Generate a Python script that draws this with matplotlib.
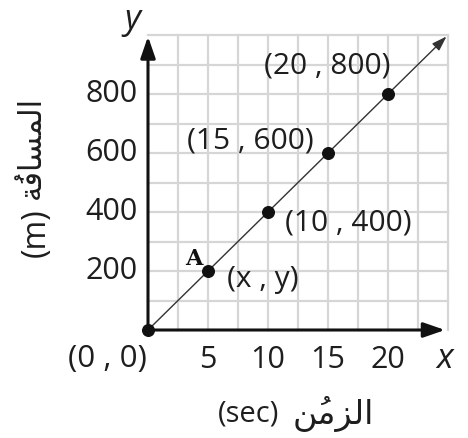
import matplotlib
matplotlib.use("Agg")
import matplotlib.pyplot as plt

# Data: time (sec) vs distance (m)
times = [0, 5, 10, 15, 20]
distances = [0, 200, 400, 600, 800]
point_labels = ["", "(x , y)", "(10 , 400)", "(15 , 600)", "(20 , 800)"]
label_offsets = [None, (55, -9), (80, -11), (-78, 12), (-61, 28)]  # pixels from each point
x_ticks = [5, 10, 15, 20]
y_ticks = [200, 400, 600, 800]
x_max, y_max = 25, 1000

# Arabic words in presentation forms (visual order) so they render joined
dist_ar = "\uFE94\u064F\uFED3\uFE8E\uFEB4\uFEE4\uFEDF\uFE8D"   # المسافةُ
time_ar = "\uFEE6\u064F\uFEE3\uFEB0\uFEDF\uFE8D"                # الزمنُ

fam = ["Open Sans", "DejaVu Sans"]
ink = "#1e1e1e"
W, H = 468, 438
fig = plt.figure(figsize=(W / 100, H / 100), dpi=100)
ax = fig.add_axes([148 / W, (H - 330) / H, 300 / W, 295 / H])
ax.set_xlim(0, x_max)
ax.set_ylim(0, y_max)
for s in ax.spines.values():
    s.set_visible(False)
ax.set_xticks([]); ax.set_yticks([])

# grid
grid_c = "#d6d6d6"
gx = [i * 2.5 for i in range(1, 11)]
gy = [i * 100 for i in range(1, 11)]
for v in gx:
    ax.plot([v, v], [0, y_max], color=grid_c, lw=1.6, zorder=1, clip_on=False)
for v in gy:
    ax.plot([0, x_max], [v, v], color=grid_c, lw=1.6, zorder=1, clip_on=False)

# axes with arrows
axis_arrow = dict(arrowstyle="-|>,head_length=1.3,head_width=0.45",
                  color="#111111", lw=2.2, shrinkA=0, shrinkB=0)
ax.annotate("", xy=(x_max * 0.99, 0), xytext=(0, 0), arrowprops=axis_arrow,
            zorder=3, annotation_clip=False)
ax.annotate("", xy=(0, y_max * 0.995), xytext=(0, 0), arrowprops=axis_arrow,
            zorder=3, annotation_clip=False)

# line through the points
ax.annotate("", xy=(x_max * 0.995, y_max * 0.995), xytext=(0, 0),
            arrowprops=dict(arrowstyle="-|>,head_length=0.9,head_width=0.3",
                            color="#333333", lw=1.0, shrinkA=0, shrinkB=0),
            zorder=3, annotation_clip=False)
ax.scatter(times, distances, s=70, color="#111111", zorder=4, clip_on=False)

# point labels
for t, d, lab, off in zip(times, distances, point_labels, label_offsets):
    if lab:
        ax.annotate(lab, xy=(t, d), xytext=off, textcoords="offset pixels",
                    fontsize=21.5, family=fam, ha="center", va="center", color=ink)
ax.annotate("A", xy=(times[1], distances[1]), xytext=(-14, 12), textcoords="offset pixels",
            fontsize=16, family="DejaVu Serif", fontweight="bold",
            ha="center", va="center", color="#111111")

# tick labels
for v in x_ticks:
    ax.text(v, -100, str(v), fontsize=22, family=fam, ha="center", va="center", color=ink)
for v in y_ticks:
    ax.text(-0.9, v, str(v), fontsize=22, family=fam, ha="right", va="center", color=ink)
ax.text(-0.1, -100, "(0 , 0)", fontsize=22.5, family=fam, ha="right", va="center", color=ink)

# axis letters
ax.text(24.75, -100, "x", fontsize=25, family=fam, style="italic", ha="center", va="center", color=ink)
ax.text(-1.33, 1050, "y", fontsize=25, family=fam, style="italic", ha="center", va="center", color=ink)

# axis titles
fig.text(249 / W, 1 - 414 / H, "(sec)", fontsize=21, family=fam, ha="center", va="center", color=ink)
fig.text(333 / W, 1 - 414 / H, time_ar, fontsize=24, family=fam, ha="center", va="center", color=ink)
fig.text(36 / W, 1 - 233 / H, "(m)", fontsize=23, family=fam, rotation=90,
         ha="center", va="center", color=ink)
fig.text(32 / W, 1 - 147 / H, dist_ar, fontsize=22, family=fam, rotation=90,
         ha="center", va="center", color=ink)

fig.savefig("out.png", dpi=100, facecolor="white")
